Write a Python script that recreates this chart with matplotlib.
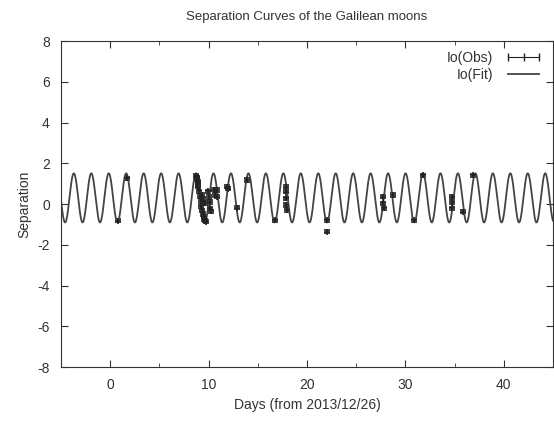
import numpy as np
import matplotlib as mpl
mpl.use('Agg')
import matplotlib.pyplot as plt
from matplotlib.ticker import MultipleLocator
from matplotlib.lines import Line2D

# observed separations of Io (days from 2013/12/26, separation, error)
obs_days = [0.84, 1.75,
            8.75, 8.80, 8.85, 8.88, 8.92, 8.97, 9.05, 9.12, 9.20, 9.28,
            9.35, 9.42, 9.50, 9.58, 9.65, 9.72, 9.30, 9.45, 9.60,
            9.95, 10.05, 10.12, 10.18, 10.22, 10.55, 10.65, 10.85, 10.90,
            11.85, 11.95, 12.86, 13.90, 16.75,
            17.85, 17.88, 17.90, 17.92, 17.95,
            22.06, 22.06, 27.75, 27.78, 27.80, 28.76, 30.90, 31.80,
            34.70, 34.72, 34.75, 35.90, 36.90]
obs_sep = [-0.82, 1.27,
           1.38, 1.32, 1.22, 1.10, 0.98, 0.85, 0.62, 0.40, 0.15, -0.10,
           -0.30, -0.48, -0.62, -0.75, -0.82, -0.86, 0.45, 0.25, 0.05,
           0.62, 0.35, 0.10, -0.20, -0.35, 0.70, 0.45, 0.69, 0.36,
           0.85, 0.75, -0.18, 1.18, -0.79,
           0.85, 0.60, 0.28, -0.05, -0.30,
           -0.80, -1.36, 0.36, 0.03, -0.20, 0.44, -0.80, 1.42,
           0.36, 0.10, -0.20, -0.38, 1.42]
obs_err = [0.08] * len(obs_days)

# fitted model parameters for Io
fit_offset = 0.305
fit_amp = 1.205
fit_period = 1.7745
fit_peak = -3.69

days = np.linspace(-5, 45, 3000)
fit_sep = fit_offset + fit_amp * np.cos(2 * np.pi * (days - fit_peak) / fit_period)

plt.rcParams['font.family'] = ['Liberation Sans', 'DejaVu Sans']
plt.rcParams['axes.unicode_minus'] = False
fig = plt.figure(figsize=(5.54, 4.23), dpi=100)
ax = fig.add_axes([0.110, 0.132, 0.888, 0.771])

ax.errorbar(obs_days, obs_sep, yerr=obs_err, fmt='+', color='#222222',
            ms=5, mew=1.2, elinewidth=0.9, capsize=2, label="Io(Obs)")
ax.plot(days, fit_sep, color='#444444', lw=1.3, label="Io(Fit)")

ax.set_xlim(-5, 45)
ax.set_ylim(-8, 8)
ax.xaxis.set_major_locator(MultipleLocator(10))
ax.xaxis.set_minor_locator(MultipleLocator(5))
ax.yaxis.set_major_locator(MultipleLocator(2))
ax.tick_params(which='both', direction='in', top=True, right=True,
               colors='#333333', labelcolor='#333333', labelsize=10)
ax.tick_params(which='major', length=5, pad=8)
ax.tick_params(which='minor', length=3)
for s in ax.spines.values():
    s.set_color('#333333')

ax.set_title("Separation Curves of the Galilean moons", fontsize=9.5,
             color='#333333', pad=15)
ax.set_xlabel("Days (from 2013/12/26)", fontsize=10, color='#333333')
ax.set_ylabel("Separation", fontsize=10, color='#333333')

h_obs = Line2D([], [], color='#222222', lw=0.8, marker='|', ms=6)
h_fit = Line2D([], [], color='#444444', lw=1.3)
ax.legend([h_obs, h_fit], ["Io(Obs)", "Io(Fit)"], loc='upper right',
          frameon=False, markerfirst=False, numpoints=3, fontsize=10,
          handlelength=2.8, borderaxespad=0.3, labelspacing=0.2,
          labelcolor='#333333')

plt.savefig("out.png", dpi=100)
